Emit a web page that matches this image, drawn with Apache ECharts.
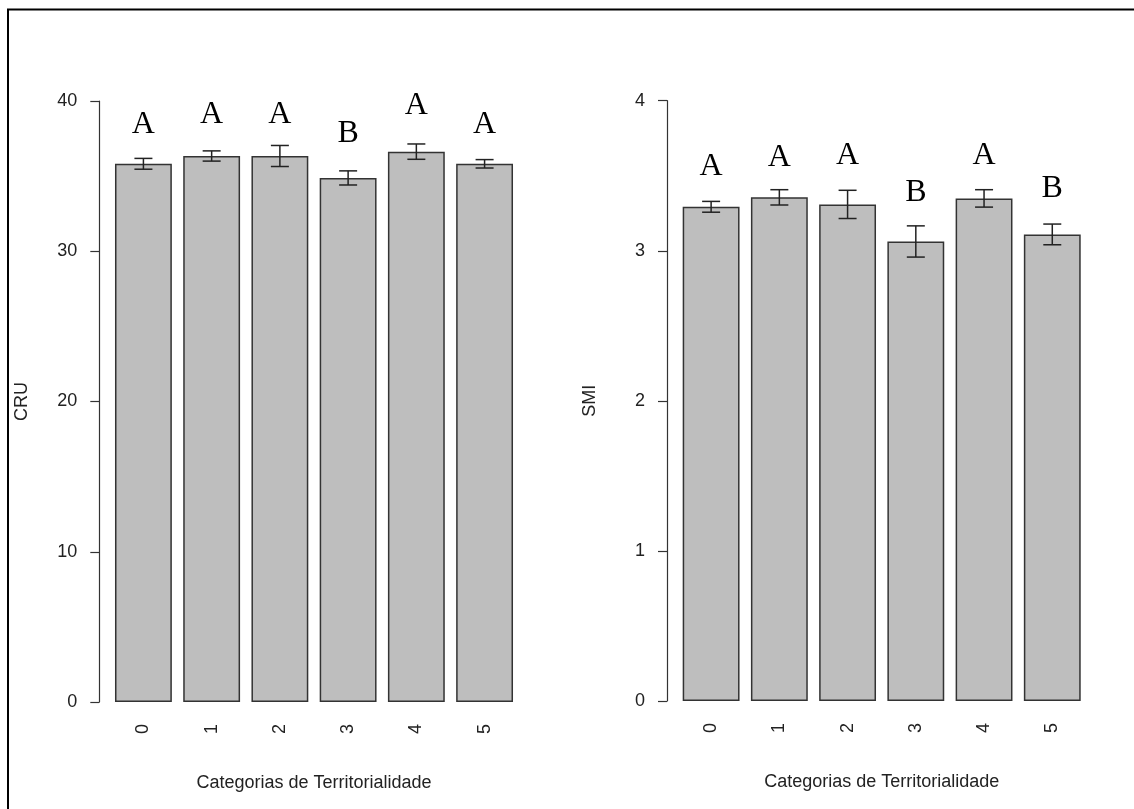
<!DOCTYPE html>
<html>
<head>
<meta charset="utf-8">
<script src="https://cdn.jsdelivr.net/npm/echarts@6/dist/echarts.min.js"></script>
<style>
html,body{margin:0;padding:0;background:#fff;}
#chart{width:1134px;height:809px;}
</style>
</head>
<body>
<div id="chart"></div>
<script>
// ---- data ----
const categories = ['0', '1', '2', '3', '4', '5'];
const cruMean = [35.82, 36.34, 36.34, 34.88, 36.63, 35.82];
const cruErr = [0.36, 0.34, 0.70, 0.47, 0.51, 0.28];
const cruLetters = ['A', 'A', 'A', 'B', 'A', 'A'];
const cruLetterY = [38.42, 39.07, 39.07, 37.82, 39.68, 38.41];
const smiMean = [3.293, 3.356, 3.309, 3.062, 3.349, 3.109];
const smiErr = [0.036, 0.051, 0.094, 0.104, 0.058, 0.069];
const smiLetters = ['A', 'A', 'A', 'B', 'A', 'B'];
const smiLetterY = [3.562, 3.621, 3.635, 3.388, 3.637, 3.412];
const xTitle = 'Categorias de Territorialidade';
const cruTicks = {min: 0, max: 40, interval: 10};
const smiTicks = {min: 0, max: 4, interval: 1};

// ---- chart ----
const chart = echarts.init(document.getElementById('chart'));
const sans = 'Liberation Sans, Arial, sans-serif';
const serif = 'Liberation Serif, Times New Roman, serif';

function errData(mean, err) {
  return mean.map((m, i) => [i, m - err[i], m + err[i]]);
}
function letterData(ys, letters) {
  return ys.map((y, i) => [i, y, letters[i]]);
}
function renderErr(params, api) {
  const i = api.value(0);
  const lo = api.coord([i, api.value(1)]);
  const hi = api.coord([i, api.value(2)]);
  const hw = 9;
  const st = {stroke: '#222', lineWidth: 1.5, fill: null};
  return {
    type: 'group',
    children: [
      {type: 'line', shape: {x1: lo[0], y1: lo[1], x2: hi[0], y2: hi[1]}, style: st},
      {type: 'line', shape: {x1: lo[0] - hw, y1: lo[1], x2: lo[0] + hw, y2: lo[1]}, style: st},
      {type: 'line', shape: {x1: hi[0] - hw, y1: hi[1], x2: hi[0] + hw, y2: hi[1]}, style: st}
    ]
  };
}
function renderLetter(params, api) {
  const p = api.coord([api.value(0), api.value(1)]);
  return {
    type: 'text',
    x: p[0], y: p[1],
    style: {
      text: String(api.value(2)),
      fontFamily: serif,
      fontSize: 32,
      fill: '#000',
      align: 'center',
      verticalAlign: 'middle'
    }
  };
}

function xAxisCfg(gi) {
  return {
    type: 'category', gridIndex: gi, data: categories,
    axisLine: {show: false}, axisTick: {show: false}, splitLine: {show: false},
    axisLabel: {rotate: 90, margin: 22, fontSize: 18, fontFamily: sans, color: '#222'},
    name: xTitle, nameLocation: 'middle', nameGap: 72,
    nameTextStyle: {fontSize: 18, fontFamily: sans, color: '#222'}
  };
}
function yAxisCfg(gi, name, t) {
  return {
    type: 'value', gridIndex: gi, min: t.min, max: t.max, interval: t.interval,
    offset: 10,
    axisLine: {show: true, lineStyle: {color: '#333', width: 1.2}},
    axisTick: {show: true, inside: false, length: 9, lineStyle: {color: '#333', width: 1.2}},
    splitLine: {show: false},
    axisLabel: {margin: 22, fontSize: 18, fontFamily: sans, color: '#222'},
    name: name, nameLocation: 'middle', nameRotate: 90, nameGap: 68,
    nameTextStyle: {fontSize: 18, fontFamily: sans, color: '#222'}
  };
}
const barStyle = {color: '#bebebe', borderColor: '#333', borderWidth: 1.5};

chart.setOption({
  animation: false,
  backgroundColor: '#fff',
  graphic: [{
    type: 'rect', shape: {x: 8, y: 9.5, width: 1140, height: 820},
    style: {fill: null, stroke: '#000', lineWidth: 2}, z: 100
  }],
  grid: [
    {left: 109.3, top: 101, width: 409.4, height: 601},
    {left: 677, top: 100.7, width: 409.4, height: 600.3}
  ],
  xAxis: [xAxisCfg(0), xAxisCfg(1)],
  yAxis: [yAxisCfg(0, 'CRU', cruTicks), yAxisCfg(1, 'SMI', smiTicks)],
  series: [
    {type: 'bar', xAxisIndex: 0, yAxisIndex: 0, data: cruMean, barWidth: '83.33%', itemStyle: barStyle, silent: true},
    {type: 'custom', xAxisIndex: 0, yAxisIndex: 0, data: errData(cruMean, cruErr), renderItem: renderErr, z: 5, silent: true},
    {type: 'custom', xAxisIndex: 0, yAxisIndex: 0, data: letterData(cruLetterY, cruLetters), renderItem: renderLetter, z: 5, silent: true},
    {type: 'bar', xAxisIndex: 1, yAxisIndex: 1, data: smiMean, barWidth: '83.33%', itemStyle: barStyle, silent: true},
    {type: 'custom', xAxisIndex: 1, yAxisIndex: 1, data: errData(smiMean, smiErr), renderItem: renderErr, z: 5, silent: true},
    {type: 'custom', xAxisIndex: 1, yAxisIndex: 1, data: letterData(smiLetterY, smiLetters), renderItem: renderLetter, z: 5, silent: true}
  ]
});
</script>
</body>
</html>
